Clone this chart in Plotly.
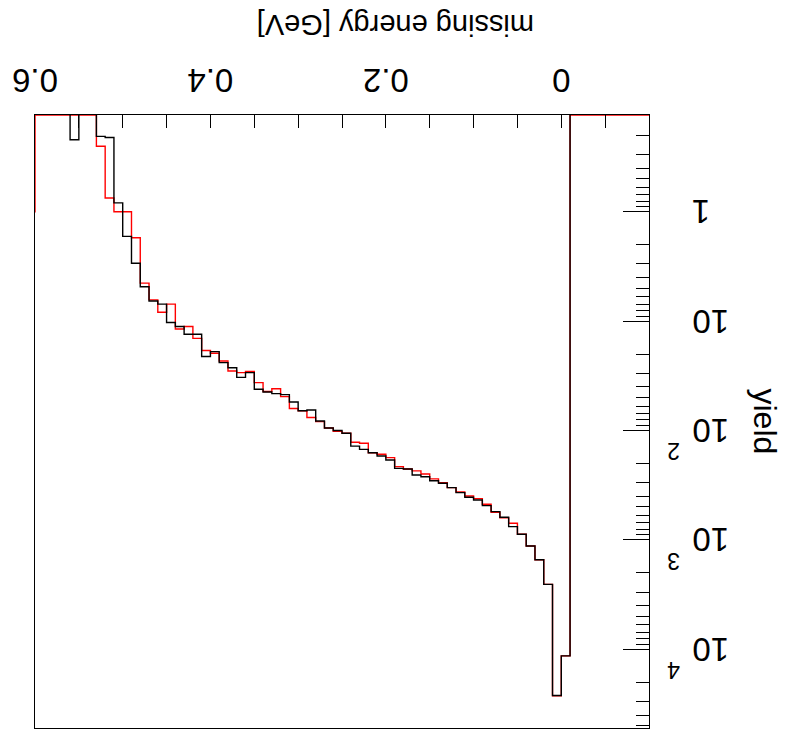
import math
import plotly.graph_objects as go

# ---------------- data ----------------
# histogram bins: lower edges from -0.10 to 0.60 GeV, width 0.01 GeV
bin_width = 0.01
bin_lower_edges = [round(-0.10 + bin_width * i, 2) for i in range(71)]

# black histogram (bins starting at -0.10 .. 0.60)
black_counts = [
    0, 0, 0, 0, 0, 0, 0, 0, 0,          # -0.10 .. -0.02
    11500,                              # -0.01
    26500, 2550, 1520, 1137, 889, 757, 621, 552, 486, 432,
    408, 370, 333, 304, 288, 265, 255, 225, 222, 186,
    171, 160, 149, 139, 106, 100, 95, 82, 65, 66,
    55, 47, 46, 44.5, 42, 29.6, 32.7, 26.7, 24, 19,
    21.1, 13.2, 13.2, 11.2, 10.3, 7.0, 6.55, 4.85, 2.96, 1.68,
    0.83, 0.21, 0.205, 0, 0, 0.22, 0, 0, 0, 0,
    0,
]
# red histogram
red_counts = [
    0, 0, 0, 0, 0, 0, 0, 0, 0,
    11500,
    26700, 2550, 1520, 1137, 889, 705, 630, 560, 473, 420,
    397, 365, 333, 300, 277, 250, 234, 225, 214, 177,
    165, 160, 131, 128, 106, 102, 95, 83, 76, 66,
    63, 49, 41.5, 44, 36.5, 28.8, 29.6, 28.6, 23.2, 19.7,
    18.6, 14.4, 11.2, 11.8, 7.0, 8.3, 6.4, 4.5, 1.73, 1.0,
    1.0, 0.75, 0.252, 0, 0, 0, 0, 0, 0, 0,
    1.0,
]

x_major_ticks = [0.0, 0.2, 0.4, 0.6]
x_major_labels = ["0", "0.2", "0.4", "0.6"]
x_minor_ticks = [-0.1, -0.05, 0.05, 0.1, 0.15, 0.25, 0.3, 0.35, 0.45, 0.5, 0.55]
y_major_ticks = [1, 10, 100, 1000, 10000]
y_label_base = ["1", "10", "10", "10", "10"]
y_label_exponent = ["", "", "2", "3", "4"]
x_title = "missing energy [GeV]"
y_title = "yield"

# ---------------- figure ----------------
LOG_MIN, LOG_MAX = -0.884, 4.72
FONT = "Arial"


def step_xy(counts, floor):
    # empty bins: red is drawn along the frame bottom, black drops out of the frame
    xs = list(bin_lower_edges) + [round(bin_lower_edges[-1] + bin_width, 2)]
    ys = [c if c > 0 else floor for c in counts]
    ys = ys + [ys[-1]]
    return xs, ys


fig = go.Figure()
for counts, color, floor in [(black_counts, "#000000", 10 ** (LOG_MIN - 1.0)),
                             (red_counts, "#ff0000", 10 ** LOG_MIN)]:
    xs, ys = step_xy(counts, floor)
    fig.add_trace(go.Scatter(x=xs, y=ys, mode="lines", line=dict(color=color, width=1.4, shape="hv"),
                             showlegend=False, hoverinfo="skip"))
# black on top where the two coincide
fig.data = (fig.data[1], fig.data[0])

W, H = 791, 736
ML, MR, MT, MB = 142, 35, 8, 115
PW = W - ML - MR
PH = H - MT - MB

fig.update_layout(
    width=W, height=H,
    margin=dict(l=ML, r=MR, t=MT, b=MB, pad=0),
    paper_bgcolor="white", plot_bgcolor="white",
    font=dict(family=FONT, color="black"),
    showlegend=False,
)
fig.update_xaxes(
    range=[-0.1, 0.6], showgrid=False, zeroline=False,
    showline=True, mirror=True, linecolor="black", linewidth=1,
    ticks="inside", ticklen=13, tickwidth=1, tickcolor="black",
    tickmode="array", tickvals=x_major_ticks, ticktext=x_major_labels,
    tickfont=dict(size=33, family=FONT, color="black"),
    ticklabelstandoff=5,
    minor=dict(ticks="inside", ticklen=13, tickwidth=1, tickcolor="black",
               tickmode="array", tickvals=x_minor_ticks, showgrid=False),
)
minor_vals = [m * 10 ** d for d in range(-1, 5) for m in range(2, 10)]
fig.update_yaxes(
    type="log", range=[LOG_MIN, LOG_MAX], showgrid=False, zeroline=False,
    showline=True, mirror=True, linecolor="black", linewidth=1,
    ticks="inside", ticklen=26, tickwidth=1, tickcolor="black",
    tickmode="array", tickvals=y_major_ticks, showticklabels=False,
    minor=dict(ticks="inside", ticklen=13, tickwidth=1, tickcolor="black",
               tickmode="array", tickvals=minor_vals, showgrid=False),
)


def px_x(px):
    return (px - ML) / PW


def px_y(py):
    return (H - MB - py) / PH


annotations = []
for v, base, ex in zip(y_major_ticks, y_label_base, y_label_exponent):
    annotations.append(dict(x=px_x(100.5), xref="paper", xanchor="right",
                            y=math.log10(v), yref="y", yanchor="middle",
                            text=base, showarrow=False, font=dict(size=33, family=FONT)))
    if ex:
        annotations.append(dict(x=px_x(109), xref="paper", xanchor="left",
                                y=math.log10(v), yref="y", yanchor="middle", yshift=21,
                                text=ex, showarrow=False, font=dict(size=23, family=FONT)))
annotations.append(dict(x=px_x(395), xref="paper", xanchor="center",
                        y=px_y(711), yref="paper", yanchor="middle",
                        text=x_title, showarrow=False, font=dict(size=29, family=FONT)))
annotations.append(dict(x=px_x(26), xref="paper", xanchor="center",
                        y=0.5, yref="paper", yanchor="middle", textangle=-90,
                        text=y_title, showarrow=False, font=dict(size=32, family=FONT)))
fig.update_layout(annotations=annotations)

# the reference image is the whole canvas turned upside down (rotated 180 degrees)
post = ("var gd=document.getElementById('{plot_id}');"
        "gd.style.transformOrigin='50% 50%';gd.style.transform='rotate(180deg)';")
fig.write_html("out.html", post_script=post, config={"displayModeBar": False})
